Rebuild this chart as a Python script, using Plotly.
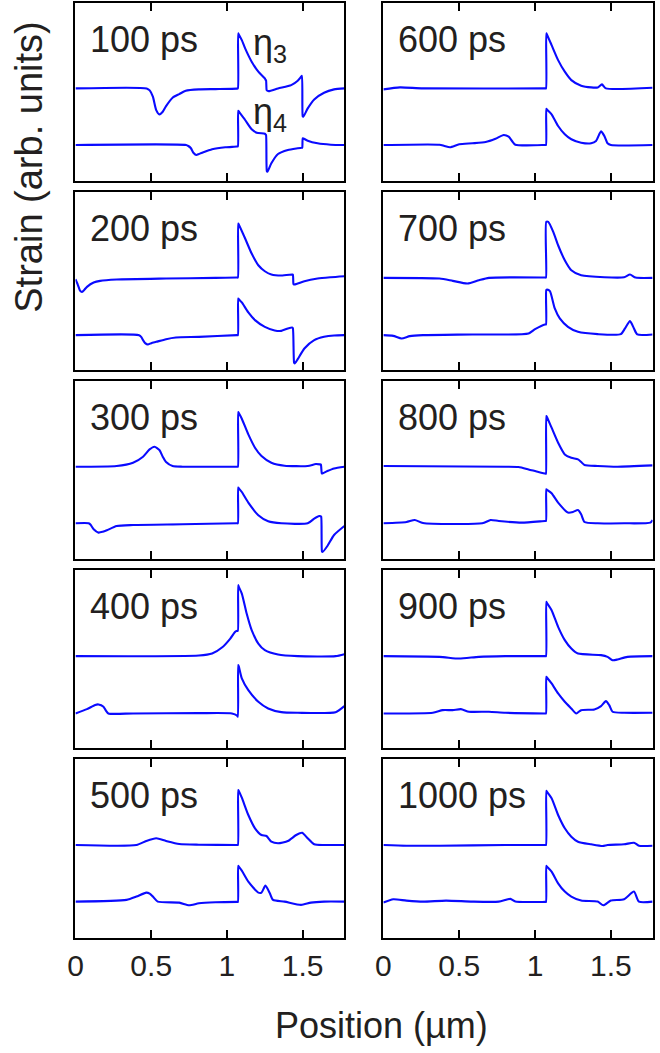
import plotly.graph_objects as go

# Strain profiles (arb. units) vs. position (um) for the eta3 and eta4 components
# at successive delay times. Each list holds (position, strain) pairs.
times_ps = [100, 200, 300, 400, 500, 600, 700, 800, 900, 1000]

eta3_100ps = [(0, 0), (0.47, 0), (0.49, -0.2), (0.511, -0.83), (0.533, -2.17), (0.554, -2.6), (0.576, -2.33),
              (0.598, -1.77), (0.641, -0.93), (0.685, -0.57), (0.728, -0.23), (0.815, -0.1), (0.924, -0.07),
              (1.066, -0.02), (1.072, 0), (1.074, 5.5), (1.078, 5.4), (1.098, 4.83), (1.12, 4.0), (1.163, 2.67),
              (1.207, 1.67), (1.25, 1.0), (1.255, 0.85), (1.258, 0.8), (1.262, -0.17), (1.266, -0.22),
              (1.276, -0.27), (1.337, 0), (1.424, 0.33), (1.467, 0.77), (1.49, 1.18), (1.495, 1.25),
              (1.5, -2.78), (1.504, -2.83), (1.533, -2.0), (1.576, -1.1), (1.641, -0.43), (1.707, -0.1),
              (1.775, 0)]
eta4_100ps = [(0, 0), (0.73, 0), (0.745, -0.1), (0.761, -0.3), (0.78, -0.8), (0.798, -1.0), (0.815, -0.9),
              (0.837, -0.77), (0.902, -0.43), (0.989, -0.23), (1.066, -0.15), (1.072, -0.13), (1.074, 3.43),
              (1.078, 3.35), (1.12, 2.5), (1.163, 1.57), (1.196, 1.23), (1.25, 1.13), (1.255, 1.05),
              (1.258, 1.0), (1.263, -2.6), (1.267, -2.67), (1.293, -1.83), (1.337, -0.9), (1.402, -0.5),
              (1.467, -0.33), (1.494, -0.27), (1.497, -0.27), (1.5, 0.67), (1.505, 0.65), (1.533, 0.43),
              (1.598, 0.17), (1.685, 0.03), (1.775, 0)]

eta3_200ps = [(0, -0.17), (0.015, -0.7), (0.03, -1.3), (0.043, -1.43), (0.06, -1.2), (0.076, -0.93),
              (0.12, -0.5), (0.163, -0.33), (0.272, -0.2), (0.598, -0.1), (0.924, -0.03), (1.066, 0),
              (1.072, 0), (1.074, 5.4), (1.078, 5.3), (1.12, 3.9), (1.163, 2.4), (1.207, 1.23), (1.25, 0.63),
              (1.293, 0.3), (1.359, 0.2), (1.43, 0.3), (1.435, 0.3), (1.439, -0.65), (1.443, -0.7),
              (1.467, -0.6), (1.511, -0.37), (1.598, -0.1), (1.685, 0.03), (1.775, 0.13)]
eta4_200ps = [(0, -0.1), (0.42, -0.1), (0.435, -0.3), (0.446, -0.6), (0.46, -0.9), (0.478, -1.03),
              (0.5, -0.9), (0.533, -0.77), (0.598, -0.5), (0.663, -0.33), (0.815, -0.27), (1.066, -0.1),
              (1.072, -0.1), (1.074, 3.57), (1.078, 3.5), (1.098, 3.17), (1.141, 2.17), (1.185, 1.4),
              (1.25, 0.73), (1.315, 0.37), (1.359, 0.33), (1.402, 0.57), (1.43, 0.67), (1.435, 0.6),
              (1.443, -2.85), (1.447, -2.93), (1.467, -2.5), (1.511, -1.43), (1.576, -0.6), (1.641, -0.27),
              (1.707, -0.13), (1.775, -0.1)]

eta3_300ps = [(0, 0), (0.272, 0.07), (0.38, 0.4), (0.446, 1.0), (0.489, 1.73), (0.522, 2.0), (0.554, 1.67),
              (0.576, 1.0), (0.598, 0.47), (0.641, 0.07), (0.707, 0), (1.066, 0), (1.072, 0), (1.074, 5.47),
              (1.078, 5.37), (1.098, 4.8), (1.141, 3.23), (1.185, 1.9), (1.228, 1.07), (1.293, 0.4),
              (1.38, 0.1), (1.533, 0.07), (1.587, 0.27), (1.615, 0.23), (1.62, 0.22), (1.626, -0.67),
              (1.63, -0.67), (1.663, -0.43), (1.707, -0.17), (1.775, 0)]
eta4_300ps = [(0, 0), (0.087, 0), (0.1, -0.15), (0.12, -0.6), (0.152, -0.93), (0.18, -0.85), (0.207, -0.7),
              (0.272, -0.27), (0.38, -0.17), (0.707, -0.1), (1.066, 0), (1.072, 0), (1.074, 3.57),
              (1.078, 3.5), (1.098, 3.13), (1.141, 2.07), (1.207, 0.8), (1.272, 0.2), (1.359, 0), (1.533, 0),
              (1.576, 0.47), (1.609, 0.73), (1.618, 0.7), (1.622, 0.65), (1.627, -2.8), (1.631, -2.87),
              (1.663, -2.27), (1.707, -1.17), (1.775, -0.27)]

eta3_400ps = [(0, -0.03), (0.815, 0.03), (0.902, 0.23), (0.967, 0.83), (1.022, 1.73), (1.054, 2.4),
              (1.068, 2.5), (1.072, 2.5), (1.074, 7.07), (1.078, 6.9), (1.098, 6.23), (1.13, 4.23),
              (1.163, 2.57), (1.207, 1.23), (1.25, 0.57), (1.337, 0.13), (1.467, -0.03), (1.717, -0.03),
              (1.775, 0.17)]
eta4_400ps = [(0, -0.1), (0.076, 0.33), (0.13, 0.75), (0.152, 0.8), (0.185, 0.57), (0.2, 0.2), (0.217, -0.1),
              (0.38, -0.1), (0.815, -0.07), (1.033, -0.1), (1.066, -0.3), (1.072, -0.43), (1.074, 4.73),
              (1.078, 4.6), (1.098, 3.4), (1.141, 2.23), (1.207, 1.07), (1.272, 0.4), (1.359, 0.03),
              (1.467, -0.03), (1.717, 0.03), (1.775, 0.63)]

eta3_500ps = [(0, 0), (0.402, 0), (0.467, 0.4), (0.533, 0.67), (0.598, 0.4), (0.685, 0.1), (0.815, 0.03),
              (1.066, 0), (1.072, 0), (1.074, 5.5), (1.078, 5.4), (1.098, 4.73), (1.141, 3.0), (1.185, 1.67),
              (1.228, 1.0), (1.261, 0.9), (1.293, 0.33), (1.337, 0.17), (1.402, 0.4), (1.457, 1.0),
              (1.496, 1.23), (1.533, 0.67), (1.576, 0.07), (1.641, 0), (1.775, 0)]
eta4_500ps = [(0, 0), (0.337, 0.17), (0.402, 0.5), (0.467, 0.9), (0.49, 0.8), (0.511, 0.5), (0.543, 0),
              (0.685, -0.1), (0.75, -0.37), (0.815, -0.17), (0.924, -0.07), (1.066, -0.03), (1.072, -0.03),
              (1.074, 3.57), (1.078, 3.5), (1.098, 3.1), (1.141, 2.0), (1.207, 0.9), (1.228, 0.9),
              (1.254, 1.6), (1.283, 0.83), (1.304, 0.17), (1.38, 0), (1.489, -0.33), (1.554, -0.1),
              (1.641, 0), (1.775, 0)]

eta3_600ps = [(0, -0.1), (0.109, 0.1), (0.261, 0), (1.066, 0), (1.072, 0), (1.074, 5.5), (1.078, 5.4),
              (1.109, 4.33), (1.152, 2.83), (1.196, 1.67), (1.239, 0.83), (1.304, 0.27), (1.37, 0.1),
              (1.413, 0.1), (1.441, 0.4), (1.467, 0), (1.775, 0.07)]
eta4_600ps = [(0, 0), (0.37, 0.03), (0.402, -0.1), (0.439, -0.23), (0.5, 0.07), (0.587, 0.17), (0.674, 0.3),
              (0.739, 0.63), (0.793, 1.0), (0.826, 0.83), (0.848, 0.4), (0.87, 0.03), (1.066, 0), (1.072, 0),
              (1.074, 3.63), (1.078, 3.55), (1.109, 3.07), (1.152, 1.9), (1.196, 1.07), (1.239, 0.57),
              (1.304, 0.23), (1.37, 0.17), (1.402, 0.4), (1.435, 1.37), (1.457, 0.9), (1.478, 0.17),
              (1.5, 0), (1.775, 0)]

eta3_700ps = [(0, -0.03), (0.37, -0.1), (0.457, -0.33), (0.554, -0.6), (0.63, -0.27), (0.696, -0.03),
              (1.066, 0), (1.072, 0), (1.074, 5.57), (1.087, 5.57), (1.12, 4.57), (1.152, 3.23), (1.196, 1.73),
              (1.239, 0.73), (1.304, 0.23), (1.457, 0.03), (1.587, 0.03), (1.626, 0.3), (1.663, 0),
              (1.775, -0.03)]
eta4_700ps = [(0, -0.1), (0.065, -0.17), (0.12, -0.43), (0.174, -0.2), (0.261, -0.1), (0.587, -0.03),
              (0.957, 0.07), (1.0, 0.5), (1.065, 0.97), (1.072, 0.97), (1.074, 4.4), (1.08, 4.45), (1.098, 4.3),
              (1.13, 2.57), (1.163, 1.57), (1.217, 0.73), (1.283, 0.23), (1.413, 0), (1.565, 0), (1.593, 0.57),
              (1.626, 1.3), (1.652, 0.57), (1.674, -0.03), (1.775, -0.03)]

eta3_800ps = [(0, 0.07), (0.804, 0), (0.891, -0.03), (0.957, -0.27), (1.022, -0.53), (1.07, -0.7),
              (1.072, -0.7), (1.074, 5.07), (1.078, 4.97), (1.109, 3.9), (1.152, 2.4), (1.196, 1.23),
              (1.239, 0.9), (1.283, 0.73), (1.304, 0.47), (1.326, 0.17), (1.413, 0.07), (1.543, 0),
              (1.775, 0.13)]
eta4_800ps = [(0, 0), (0.152, 0.13), (0.207, 0.33), (0.261, 0.03), (0.652, 0), (0.707, 0.33), (0.761, 0.23),
              (0.913, 0.07), (1.066, 0.23), (1.072, 0.23), (1.074, 3.4), (1.078, 3.35), (1.109, 3.0),
              (1.152, 2.07), (1.217, 1.07), (1.25, 1.13), (1.283, 1.33), (1.304, 0.9), (1.326, 0.13),
              (1.413, 0), (1.587, 0), (1.761, 0.07), (1.775, 0.33)]

eta3_900ps = [(0, -0.03), (0.37, -0.1), (0.5, -0.27), (0.63, -0.1), (0.804, -0.03), (1.066, -0.03),
              (1.072, -0.03), (1.074, 5.4), (1.078, 5.3), (1.109, 4.57), (1.152, 2.9), (1.196, 1.57),
              (1.239, 0.73), (1.283, 0.23), (1.435, 0.07), (1.478, -0.1), (1.511, -0.43), (1.543, -0.37),
              (1.609, -0.1), (1.775, -0.03)]
eta4_900ps = [(0, -0.1), (0.326, -0.03), (0.391, 0.23), (0.457, 0.23), (0.511, 0.33), (0.565, 0.07),
              (0.696, 0.07), (0.804, -0.03), (1.066, -0.1), (1.072, -0.1), (1.074, 3.57), (1.078, 3.5),
              (1.109, 2.9), (1.152, 1.9), (1.196, 1.07), (1.239, 0.4), (1.272, -0.1), (1.304, 0.23),
              (1.391, 0.3), (1.435, 0.63), (1.467, 1.13), (1.489, 0.73), (1.511, 0.07), (1.587, -0.03),
              (1.775, -0.03)]

eta3_1000ps = [(0, 0), (0.152, -0.07), (0.37, -0.07), (0.804, 0), (1.066, 0), (1.072, 0), (1.074, 5.43),
               (1.078, 5.33), (1.109, 4.67), (1.152, 3.0), (1.196, 1.67), (1.239, 0.83), (1.283, 0.33),
               (1.37, 0.07), (1.446, -0.1), (1.478, 0), (1.587, 0.07), (1.652, 0.23), (1.685, -0.07),
               (1.775, -0.07)]
eta4_1000ps = [(0, -0.1), (0.065, 0.23), (0.152, 0.1), (0.261, 0), (0.413, 0.1), (0.587, 0), (0.761, 0),
               (0.837, 0.27), (0.87, 0), (1.066, -0.03), (1.072, -0.03), (1.074, 3.57), (1.078, 3.5),
               (1.109, 3.0), (1.152, 1.83), (1.196, 1.0), (1.239, 0.5), (1.304, 0.1), (1.413, 0),
               (1.45, -0.37), (1.5, 0.1), (1.587, 0.23), (1.652, 1.0), (1.685, 0), (1.775, 0)]

eta3_profiles = [eta3_100ps, eta3_200ps, eta3_300ps, eta3_400ps, eta3_500ps,
                 eta3_600ps, eta3_700ps, eta3_800ps, eta3_900ps, eta3_1000ps]
eta4_profiles = [eta4_100ps, eta4_200ps, eta4_300ps, eta4_400ps, eta4_500ps,
                 eta4_600ps, eta4_700ps, eta4_800ps, eta4_900ps, eta4_1000ps]

x_ticks = [0, 0.5, 1, 1.5]
x_tick_labels = ["0", "0.5", "1", "1.5"]

# ---- layout geometry (pixels in a 660 x 1053 canvas) ----
W, H = 660, 1053
ROW_TOPS = [2.7, 191.85, 381.0, 570.15, 759.3]
PANEL_H = 178.3
COLS = [(68.3, 340.5), (380.0, 652.5)]
Y_RANGE = [-3.6, 14.23]
ETA3_OFFSET = 5.66          # vertical shift of the eta3 trace above the eta4 trace
X_RANGE = [0, 1.775]

FONT = "Liberation Sans, Arial, Helvetica, sans-serif"
TXT = "#231f20"
BLUE = "#0a0aff"

fig = go.Figure()
layout = dict(width=W, height=H, margin=dict(l=0, r=0, t=0, b=0),
              plot_bgcolor="white", paper_bgcolor="white", showlegend=False)
annotations = []

for k, t in enumerate(times_ps):
    col, row = divmod(k, 5)
    n = k + 1
    xs = "" if n == 1 else str(n)
    x0, x1 = COLS[col]
    top = ROW_TOPS[row]
    bot = top + PANEL_H
    layout["xaxis" + xs] = dict(
        domain=[x0 / W, x1 / W], range=X_RANGE, anchor="y" + xs,
        showline=True, linecolor="black", linewidth=2, mirror="ticks",
        ticks="inside", ticklen=8, tickwidth=1.6, tickcolor="black",
        tickvals=x_ticks, ticktext=x_tick_labels,
        showticklabels=(row == 4), tickfont=dict(family=FONT, size=30, color=TXT),
        showgrid=False, zeroline=False, fixedrange=True)
    layout["yaxis" + xs] = dict(
        domain=[1 - bot / H, 1 - top / H], range=Y_RANGE, anchor="x" + xs,
        showline=True, linecolor="black", linewidth=2, mirror=True,
        ticks="", showticklabels=False, showgrid=False, zeroline=False, fixedrange=True)

    for prof, off in ((eta3_profiles[k], ETA3_OFFSET), (eta4_profiles[k], 0.0)):
        px = [p[0] for p in prof]
        py = [p[1] + off for p in prof]
        fig.add_trace(go.Scatter(
            x=px, y=py, mode="lines", xaxis="x" + xs, yaxis="y" + xs,
            line=dict(color=BLUE, width=2.1, shape="spline", smoothing=0.6),
            hoverinfo="skip", cliponaxis=True))

    annotations.append(dict(
        text=f"{t} ps", xref=f"x{xs} domain", yref=f"y{xs} domain",
        x=0.045, y=0.795, xanchor="left", yanchor="middle", showarrow=False,
        font=dict(family=FONT, size=36, color=TXT)))

# component labels in the first panel
annotations.append(dict(text="η<sub>3</sub>", xref="x", yref="y domain", x=1.16, y=0.765,
                        xanchor="left", yanchor="middle", showarrow=False,
                        font=dict(family=FONT, size=36, color=TXT)))
annotations.append(dict(text="η<sub>4</sub>", xref="x", yref="y domain", x=1.16, y=0.375,
                        xanchor="left", yanchor="middle", showarrow=False,
                        font=dict(family=FONT, size=36, color=TXT)))

# shared axis titles
annotations.append(dict(text="Strain (arb. units)", xref="paper", yref="paper",
                        x=21 / W, y=1 - 167 / H, textangle=-90, showarrow=False,
                        xanchor="center", yanchor="middle",
                        font=dict(family=FONT, size=38, color=TXT)))
annotations.append(dict(text="Position (µm)", xref="paper", yref="paper",
                        x=378 / W, y=1 - 1025 / H, showarrow=False,
                        xanchor="center", yanchor="middle",
                        font=dict(family=FONT, size=36, color=TXT)))

layout["annotations"] = annotations
fig.update_layout(**layout)
fig.write_html("out.html")
